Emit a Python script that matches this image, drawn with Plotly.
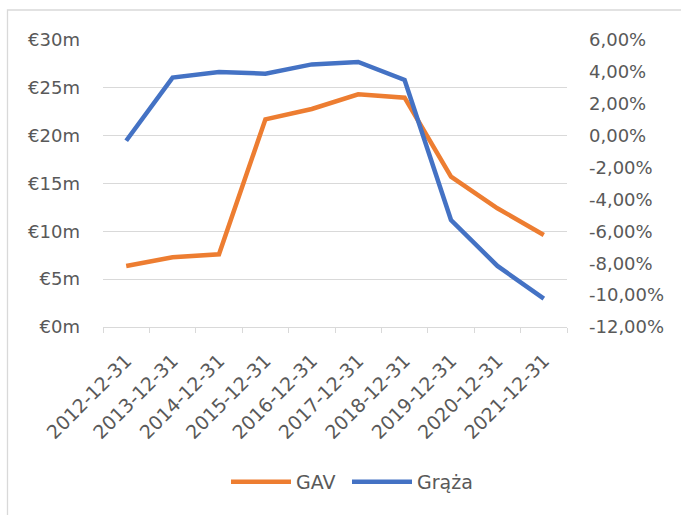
import plotly.graph_objects as go

categories = ["2012-12-31", "2013-12-31", "2014-12-31", "2015-12-31", "2016-12-31",
              "2017-12-31", "2018-12-31", "2019-12-31", "2020-12-31", "2021-12-31"]
gav_m = [6.38, 7.28, 7.60, 21.71, 22.79, 24.32, 23.97, 15.71, 12.41, 9.62]
graza_pct = [-0.32, 3.64, 3.99, 3.89, 4.47, 4.62, 3.49, -5.29, -8.17, -10.22]

left_tickvals = [0, 5, 10, 15, 20, 25, 30]
left_ticktext = ["€0m", "€5m", "€10m", "€15m", "€20m", "€25m", "€30m"]
right_tickvals = [-12, -10, -8, -6, -4, -2, 0, 2, 4, 6]
right_ticktext = ["-12,00%", "-10,00%", "-8,00%", "-6,00%", "-4,00%", "-2,00%",
                  "0,00%", "2,00%", "4,00%", "6,00%"]

ORANGE = "#ED7D31"
BLUE = "#4472C4"
GRID = "#D9D9D9"
TXT = "#595959"
FONT = "DejaVu Sans"

fig = go.Figure()
fig.add_trace(go.Scatter(x=categories, y=gav_m, name="GAV", mode="lines",
                         line=dict(color=ORANGE, width=4.5), yaxis="y",
                         legend="legend"))
fig.add_trace(go.Scatter(x=categories, y=graza_pct, name="Grąża", mode="lines",
                         line=dict(color=BLUE, width=4.5), yaxis="y2",
                         legend="legend2"))

W, H = 681, 515
L, R, T, B = 103, 114, 40, 188
pw, ph = W - L - R, H - T - B

leg_common = dict(orientation="h", yanchor="middle", xanchor="left",
                  y=(T + ph - 482) / ph,
                  font=dict(family=FONT, color=TXT, size=19),
                  itemwidth=60, bgcolor="rgba(0,0,0,0)")

fig.update_layout(
    width=W, height=H,
    margin=dict(l=L, r=R, t=T, b=B),
    paper_bgcolor="white", plot_bgcolor="white",
    font=dict(family=FONT, color=TXT, size=18),
    showlegend=True,
    legend=dict(x=(226 - L) / pw, **leg_common),
    legend2=dict(x=(347 - L) / pw, **leg_common),
    xaxis=dict(type="category", tickangle=-45, tickson="boundaries",
               ticks="outside", ticklen=5, tickcolor=GRID, tickwidth=1.3,
               showline=True, linecolor=GRID, linewidth=1.3,
               showgrid=False, zeroline=False, ticklabelstandoff=14,
               tickfont=dict(family=FONT, color=TXT, size=19),
               range=[-0.5, len(categories) - 0.5]),
    yaxis=dict(range=[0, 30], tickvals=left_tickvals, ticktext=left_ticktext,
               showgrid=True, gridcolor=GRID, gridwidth=1.3, zeroline=False,
               showline=False, ticks="", ticklabelstandoff=22,
               tickfont=dict(family=FONT, color=TXT, size=18)),
    yaxis2=dict(range=[-12, 6], tickvals=right_tickvals, ticktext=right_ticktext,
                overlaying="y", side="right", showgrid=False, zeroline=False,
                showline=False, ticks="", ticklabelstandoff=21,
                tickfont=dict(family=FONT, color=TXT, size=18)),
    shapes=[dict(type="rect", xref="paper", yref="paper",
                 x0=(7.5 - L) / pw, x1=1.6, y0=-1.0, y1=1 + (T - 10) / ph,
                 line=dict(color=GRID, width=1.3), fillcolor="rgba(0,0,0,0)",
                 layer="below")],
)

fig.write_html("out.html", config={"displayModeBar": False},
               post_script="document.body.style.margin='0';document.body.style.overflow='hidden';")
